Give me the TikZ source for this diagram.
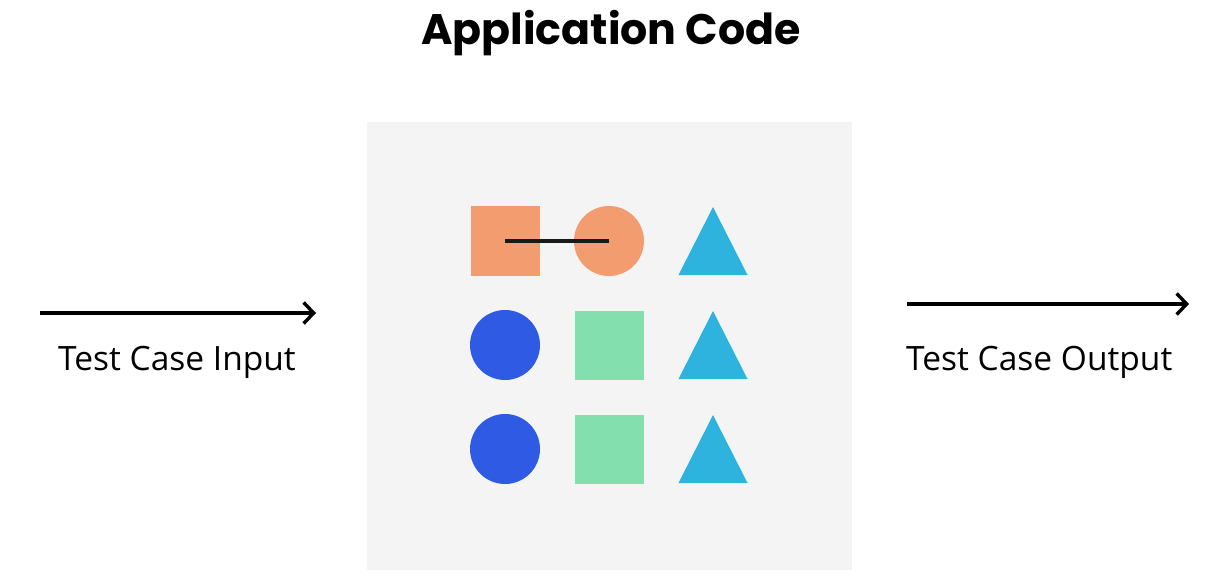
\documentclass[tikz,border=0pt]{standalone}
\usepackage{fontspec}
\setmainfont{Open Sans}
\newfontfamily\titlefont{Poppins}[UprightFont=* Bold]
\usetikzlibrary{arrows.meta,shapes.geometric}
\definecolor{panelgray}{HTML}{F4F4F4}
\definecolor{shorange}{HTML}{F29C70}
\definecolor{shblue}{HTML}{2F5BE4}
\definecolor{shgreen}{HTML}{84DFAE}
\definecolor{shcyan}{HTML}{2DB3DE}
\tikzset{
  sqbox/.style={draw=none,fill=#1,minimum size=69pt,inner sep=0pt,outer sep=0pt},
  circ/.style={circle,draw=none,fill=#1,minimum size=70pt,inner sep=0pt,outer sep=0pt},
  trifill/.style={fill=shcyan,draw=none},
  flow/.style={line width=3.4pt,-{Straight Barb[length=10pt,width=21pt,line width=3.4pt]}},
  lbl/.style={font=\fontsize{33.5}{40}\selectfont,inner sep=0pt}
}
\begin{document}
\begin{tikzpicture}[x=1pt,y=-1pt]
\useasboundingbox (0,0) rectangle (1218,580);
\node[fill=panelgray,minimum width=485pt,minimum height=448pt,inner sep=0pt] (panel) at (609.5,346) {};
\node[inner sep=0pt,font=\titlefont\fontsize{42.7}{50}\selectfont,anchor=base] (title) at (611,45) {Application Code};
% row 1
\node[sqbox=shorange] (sq1) at (505,241) {};
\node[circ=shorange] (c1) at (609,241) {};
\coordinate (t1) at (713,241);
% row 2
\node[circ=shblue] (c2) at (505,345) {};
\node[sqbox=shgreen] (sq2) at (609,345) {};
\coordinate (t2) at (713,345);
% row 3
\node[circ=shblue] (c3) at (505,449) {};
\node[sqbox=shgreen] (sq3) at (609,449) {};
\coordinate (t3) at (713,449);
\foreach \t in {t1,t2,t3}{
  \fill[trifill] ([shift={(0,-34)}]\t) -- ([shift={(34.5,34)}]\t) -- ([shift={(-34.5,34)}]\t) -- cycle;
}
\draw[line width=3pt,black!90] (sq1.center) -- (c1.center);
% arrows
\coordinate (inA) at (40,313);
\coordinate (inB) at (316,313);
\coordinate (outA) at (907,304);
\coordinate (outB) at (1189,304);
\draw[flow] (inA) -- (inB);
\draw[flow] (outA) -- (outB);
\node[lbl,anchor=base] (inlbl) at (177,370) {Test Case Input};
\node[lbl,anchor=base west] (outlbl) at (906,370) {Test Case Output};
\end{tikzpicture}
\end{document}
